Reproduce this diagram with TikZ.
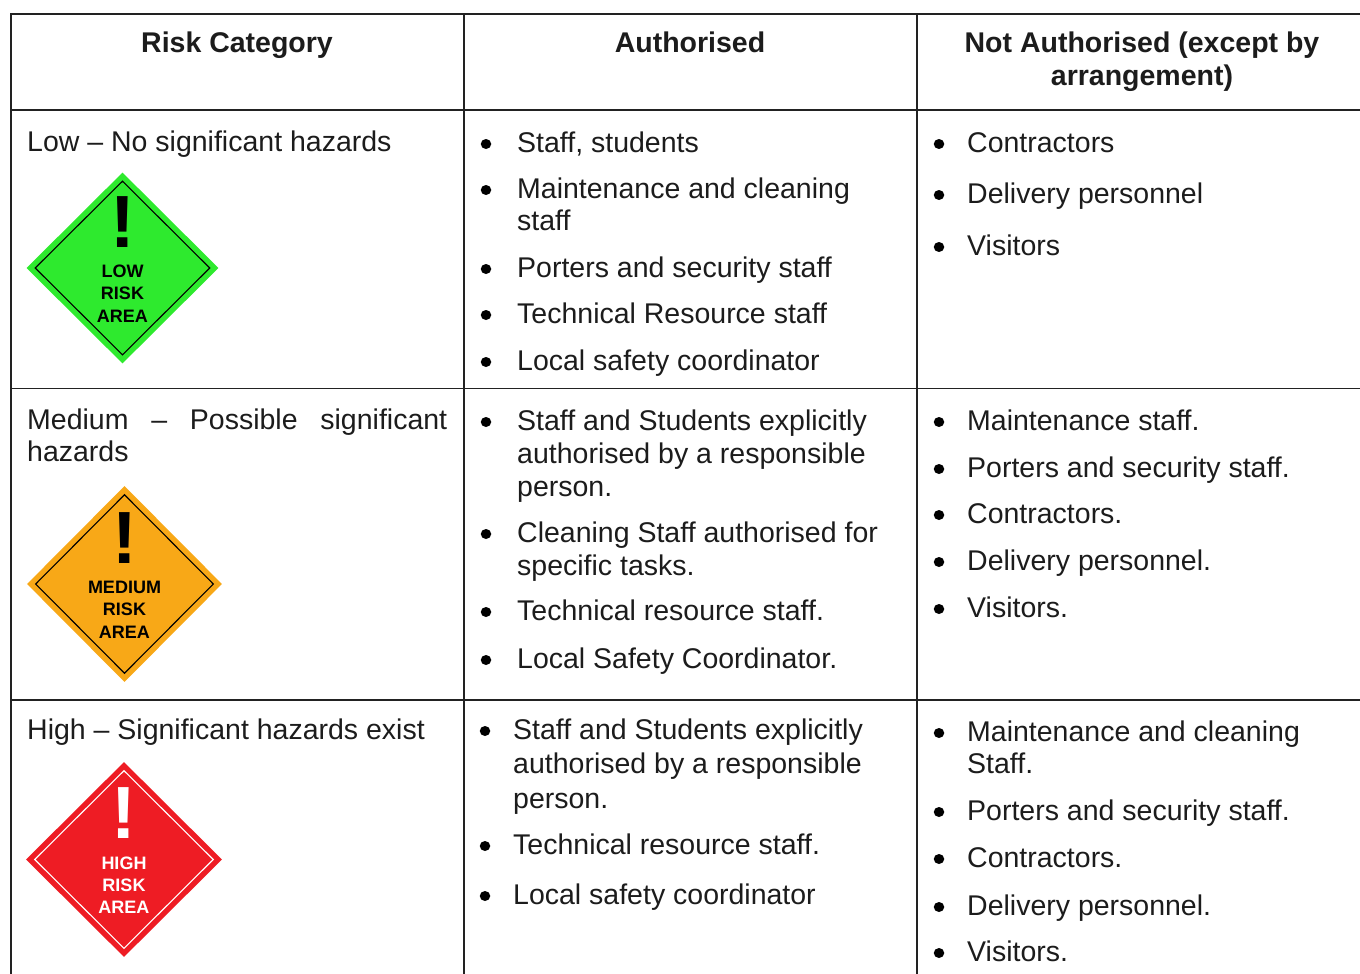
\documentclass[tikz,border=0pt]{standalone}
\usepackage{fontspec}
\setmainfont{Liberation Sans}
\usetikzlibrary{shapes.geometric}
\definecolor{txt}{HTML}{1C1C1C}
\definecolor{rule}{HTML}{222222}
\definecolor{lowgreen}{HTML}{2EEA2E}
\definecolor{medorange}{HTML}{F8A817}
\definecolor{highred}{HTML}{EE1C24}
\tikzset{
  cell/.style={anchor=base west, inner sep=0pt, text=txt, font=\fontsize{28.5}{33}\selectfont},
  head/.style={anchor=base, inner sep=0pt, text=txt, font=\fontsize{28.5}{33}\selectfont\bfseries},
  bul/.style={ellipse, fill=black, draw=none, inner sep=0pt, minimum width=10.5pt, minimum height=10pt},
  tablerule/.style={draw=rule, line width=1.6pt},
  signouter/.style={diamond, inner sep=0pt, draw=none},
  signinner/.style={diamond, inner sep=0pt, line width=1.1pt},
  bang/.style={anchor=base, inner sep=0pt, font=\fontsize{74}{74}\selectfont\bfseries},
  signtxt/.style={anchor=base, inner sep=0pt, font=\fontsize{18}{20}\selectfont\bfseries}
}
\newcommand\mybul[3]{\node[bul] (#1) at (#2,#3-8) {};}
\newcommand\mytxt[4]{\node[cell] (#1) at (#2,#3) {#4};}
% name, cx, cy, w, h, fill, line colour, text colour, {line1}{line2}{line3}
\newcommand\mysign[9]{%
  \node[signouter, fill=#6, minimum width=#4pt, minimum height=#5pt] (#1) at (#2,#3) {};
  \node[signinner, draw=#7, minimum width=#4pt-17pt, minimum height=#5pt-17pt] (#1in) at (#2,#3) {};
  \node[bang, text=#8] (#1bang) at (#2,#3-21) {!};
  \mysigntext{#1}{#2}{#3}{#8}#9}
\newcommand\mysigntext[7]{%
  \node[signtxt, text=#4] (#1ta) at (#2,#3+9.5) {#5};
  \node[signtxt, text=#4] (#1tb) at (#2,#3+31.5) {#6};
  \node[signtxt, text=#4] (#1tc) at (#2,#3+54) {#7};}
\begin{document}
\begin{tikzpicture}[x=1pt,y=-1pt]
\useasboundingbox[fill=white] (0,0) rectangle (1360,974);

% table rules
\draw[tablerule] (10,14) -- (1360,14);
\draw[tablerule] (10,110) -- (1360,110);
\draw[tablerule] (10,388.5) -- (1360,388.5);
\draw[tablerule] (10,700) -- (1360,700);
\draw[tablerule] (11,14) -- (11,974);
\draw[tablerule] (464,14) -- (464,974);
\draw[tablerule] (917,14) -- (917,974);

% header
\node[head] (h1) at (237,53) {Risk Category};
\node[head] (h2) at (690,53) {Authorised};
\node[head] (h3a) at (1142,53) {Not Authorised (except by};
\node[head] (h3b) at (1142,85) {arrangement)};

% column 1
\mytxt{lowt}{27}{151}{Low – No significant hazards}
\node[cell] (medt) at (27,429) {\hbox to 420pt{Medium\hfill–\hfill Possible\hfill significant}};
\mytxt{medt2}{27}{461}{hazards}
\mytxt{hight}{27}{739}{High – Significant hazards exist}

\mysign{lowsign}{122.5}{268}{192}{191}{lowgreen}{black}{black}{{LOW}{RISK}{AREA}}
\mysign{medsign}{124.5}{584}{195}{196}{medorange}{black}{black}{{MEDIUM}{RISK}{AREA}}
\mysign{highsign}{124}{859.5}{196}{195}{highred}{white}{white}{{HIGH}{RISK}{AREA}}

% row 1, authorised
\mybul{b11}{486}{152} \mytxt{t11}{517}{152}{Staff, students}
\mybul{b12}{486}{198} \mytxt{t12}{517}{198}{Maintenance and cleaning}
\mytxt{t12b}{517}{230}{staff}
\mybul{b13}{486}{277} \mytxt{t13}{517}{277}{Porters and security staff}
\mybul{b14}{486}{323} \mytxt{t14}{517}{323}{Technical Resource staff}
\mybul{b15}{486}{370} \mytxt{t15}{517}{370}{Local safety coordinator}

% row 1, not authorised
\mybul{n11}{939}{152} \mytxt{u11}{967}{152}{Contractors}
\mybul{n12}{939}{203} \mytxt{u12}{967}{203}{Delivery personnel}
\mybul{n13}{939}{255} \mytxt{u13}{967}{255}{Visitors}

% row 2, authorised
\mybul{b21}{486}{430} \mytxt{t21}{517}{430}{Staff and Students explicitly}
\mytxt{t21b}{517}{463}{authorised by a responsible}
\mytxt{t21c}{517}{496}{person.}
\mybul{b22}{486}{542} \mytxt{t22}{517}{542}{Cleaning Staff authorised for}
\mytxt{t22b}{517}{575}{specific tasks.}
\mybul{b23}{486}{620} \mytxt{t23}{517}{620}{Technical resource staff.}
\mybul{b24}{486}{668} \mytxt{t24}{517}{668}{Local Safety Coordinator.}

% row 2, not authorised
\mybul{n21}{939}{430} \mytxt{u21}{967}{430}{Maintenance staff.}
\mybul{n22}{939}{477} \mytxt{u22}{967}{477}{Porters and security staff.}
\mybul{n23}{939}{523} \mytxt{u23}{967}{523}{Contractors.}
\mybul{n24}{939}{570} \mytxt{u24}{967}{570}{Delivery personnel.}
\mybul{n25}{939}{617} \mytxt{u25}{967}{617}{Visitors.}

% row 3, authorised
\mybul{b31}{485}{739} \mytxt{t31}{513}{739}{Staff and Students explicitly}
\mytxt{t31b}{513}{773}{authorised by a responsible}
\mytxt{t31c}{513}{808}{person.}
\mybul{b32}{485}{854} \mytxt{t32}{513}{854}{Technical resource staff.}
\mybul{b33}{485}{904} \mytxt{t33}{513}{904}{Local safety coordinator}

% row 3, not authorised
\mybul{n31}{939}{741} \mytxt{u31}{967}{741}{Maintenance and cleaning}
\mytxt{u31b}{967}{773}{Staff.}
\mybul{n32}{939}{820} \mytxt{u32}{967}{820}{Porters and security staff.}
\mybul{n33}{939}{867} \mytxt{u33}{967}{867}{Contractors.}
\mybul{n34}{939}{915} \mytxt{u34}{967}{915}{Delivery personnel.}
\mybul{n35}{939}{961} \mytxt{u35}{967}{961}{Visitors.}
\end{tikzpicture}
\end{document}
